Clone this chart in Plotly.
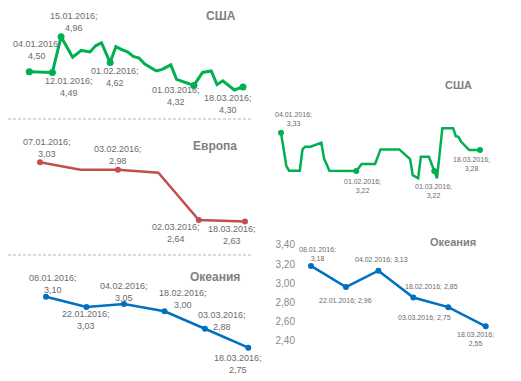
import pandas as pd
import plotly.graph_objects as go

# ---------------- data ----------------
us_left_dates = ["2016-01-04", "2016-01-12", "2016-01-15", "2016-01-19", "2016-01-22", "2016-01-25",
                 "2016-01-27", "2016-01-29", "2016-02-01", "2016-02-03", "2016-02-05", "2016-02-07",
                 "2016-02-09", "2016-02-11", "2016-02-13", "2016-02-17", "2016-02-19", "2016-02-22",
                 "2016-02-24", "2016-03-01", "2016-03-04", "2016-03-07", "2016-03-09", "2016-03-11",
                 "2016-03-15", "2016-03-18"]
us_left_values = [4.50, 4.49, 4.96, 4.69, 4.78, 4.76, 4.84, 4.88, 4.62, 4.83, 4.79, 4.76,
                  4.70, 4.68, 4.60, 4.51, 4.53, 4.59, 4.40, 4.32, 4.49, 4.51, 4.33, 4.38,
                  4.26, 4.30]
us_left_labeled = ["2016-01-04", "2016-01-12", "2016-01-15", "2016-02-01", "2016-03-01", "2016-03-18"]

europe_dates = ["2016-01-07", "2016-01-21", "2016-02-03", "2016-02-17", "2016-03-02", "2016-03-18"]
europe_values = [3.03, 2.98, 2.98, 2.96, 2.64, 2.63]
europe_labeled = ["2016-01-07", "2016-02-03", "2016-03-02", "2016-03-18"]

oceania_left_dates = ["2016-01-08", "2016-01-22", "2016-02-04", "2016-02-18", "2016-03-03", "2016-03-18"]
oceania_left_values = [3.10, 3.03, 3.05, 3.00, 2.88, 2.75]

us_right_dates = ["2016-01-04", "2016-01-06", "2016-01-07", "2016-01-11", "2016-01-12", "2016-01-13",
                  "2016-01-15", "2016-01-19", "2016-01-20", "2016-01-22", "2016-02-01", "2016-02-03",
                  "2016-02-08", "2016-02-10", "2016-02-17", "2016-02-21", "2016-02-22", "2016-02-24",
                  "2016-02-25", "2016-02-28", "2016-03-01", "2016-03-02", "2016-03-04", "2016-03-08",
                  "2016-03-09", "2016-03-10", "2016-03-11", "2016-03-14", "2016-03-16", "2016-03-18"]
us_right_values = [3.33, 3.234, 3.221, 3.221, 3.282, 3.29,
                   3.29, 3.301, 3.256, 3.221, 3.22, 3.24,
                   3.24, 3.282, 3.282, 3.254, 3.208, 3.199,
                   3.261, 3.261, 3.22, 3.199, 3.343, 3.343,
                   3.32, 3.318, 3.304, 3.28, 3.28, 3.28]
us_right_labeled = ["2016-01-04", "2016-02-01", "2016-03-01", "2016-03-18"]

oceania_right_dates = ["2016-01-08", "2016-01-22", "2016-02-04", "2016-02-18", "2016-03-03", "2016-03-18"]
oceania_right_values = [3.18, 2.96, 3.13, 2.85, 2.75, 2.55]
oceania_right_ticks = [2.40, 2.60, 2.80, 3.00, 3.20, 3.40]

titles = ["США", "Европа", "Океания", "США", "Океания"]

# ---------------- layout helpers ----------------
W, H = 521, 381
GREEN, RED, BLUE = "#00b050", "#c0504d", "#0070c0"
LABEL_COLOR = "#6b6b6b"
TITLE_COLOR = "#808080"
FONT = "Liberation Sans, Arial, sans-serif"


def ms(d):
    return pd.Timestamp(d).value / 1e6


def lin_range(v1, p1, v2, p2, lo, hi):
    s = (p2 - p1) / (v2 - v1)
    return v1 + (lo - p1) / s, v1 + (hi - p1) / s


def x_axis(d1, p1, d2, p2, lo, hi):
    a, b = lin_range(ms(d1), p1, ms(d2), p2, lo, hi)
    rng = [pd.Timestamp(a, unit="ms").strftime("%Y-%m-%d %H:%M:%S"),
           pd.Timestamp(b, unit="ms").strftime("%Y-%m-%d %H:%M:%S")]
    return dict(type="date", domain=[lo / W, hi / W], range=rng, visible=False, fixedrange=True)


def y_axis(v1, p1, v2, p2, lo, hi, **kw):
    top, bottom = lin_range(v1, p1, v2, p2, lo, hi)
    d = dict(domain=[1 - hi / H, 1 - lo / H], range=[bottom, top], visible=False,
             showgrid=False, zeroline=False, fixedrange=True)
    d.update(kw)
    return d


def fmt_label(d, v, two_lines=True):
    ds = pd.Timestamp(d).strftime("%d.%m.%Y") + ";"
    vs = f"{v:.2f}".replace(".", ",")
    return ds + ("<br>" if two_lines else " ") + vs


fig = go.Figure()
annotations = []


def add_panel(idx, dates, values, color, width, msize, labeled, offsets, font_size,
              single_line=()):
    xa = "x" if idx == 1 else f"x{idx}"
    ya = "y" if idx == 1 else f"y{idx}"
    fig.add_trace(go.Scatter(x=dates, y=values, mode="lines", xaxis=xa, yaxis=ya,
                             line=dict(color=color, width=width), hoverinfo="skip",
                             showlegend=False))
    mx = [d for d in dates if d in labeled]
    my = [v for d, v in zip(dates, values) if d in labeled]
    fig.add_trace(go.Scatter(x=mx, y=my, mode="markers", xaxis=xa, yaxis=ya,
                             marker=dict(color=color, size=msize), hoverinfo="skip",
                             showlegend=False))
    for d, v in zip(mx, my):
        dx, dy, arrow = offsets[d]
        ann = dict(x=d, y=v, xref=xa, yref=ya, text=fmt_label(d, v, d not in single_line),
                   font=dict(size=font_size, color=LABEL_COLOR, family=FONT),
                   xanchor="center", yanchor="middle", align="center")
        if arrow:
            ann.update(showarrow=True, ax=dx, ay=dy, arrowhead=0, arrowwidth=0.7,
                       arrowcolor="#9a9a9a", standoff=4, startstandoff=9)
        else:
            ann.update(showarrow=False, xshift=dx, yshift=-dy)
        annotations.append(ann)


# panel 1: USA left
add_panel(1, us_left_dates, us_left_values, GREEN, 3, 7, us_left_labeled, {
    "2016-01-04": (8, -22, True),
    "2016-01-12": (17, 15, False),
    "2016-01-15": (13, -15, False),
    "2016-02-01": (5, 14, False),
    "2016-03-01": (-18, 11, False),
    "2016-03-18": (-15, 17, False),
}, 9)

# panel 2: Europe
add_panel(2, europe_dates, europe_values, RED, 2.5, 6, europe_labeled, {
    "2016-01-07": (7, -14, False),
    "2016-02-03": (0, -15, False),
    "2016-03-02": (-23, 13, False),
    "2016-03-18": (-13, 14, False),
}, 9)

# panel 3: Oceania left
add_panel(3, oceania_left_dates, oceania_left_values, BLUE, 2.5, 6, oceania_left_dates, {
    "2016-01-08": (7, -13, False),
    "2016-01-22": (0, 13, False),
    "2016-02-04": (0, -12, False),
    "2016-02-18": (19, -12, False),
    "2016-03-03": (17, -8, False),
    "2016-03-18": (-10, 16, False),
}, 9)

# panel 4: USA right
add_panel(4, us_right_dates, us_right_values, GREEN, 2.5, 6, us_right_labeled, {
    "2016-01-04": (12, -14, False),
    "2016-02-01": (6, 15, False),
    "2016-03-01": (-1, 20, False),
    "2016-03-18": (-9, 14, False),
}, 7)

# panel 5: Oceania right
add_panel(5, oceania_right_dates, oceania_right_values, BLUE, 2.5, 6, oceania_right_dates, {
    "2016-01-08": (6, -12, False),
    "2016-01-22": (0, 13, False),
    "2016-02-04": (3, -11, False),
    "2016-02-18": (18, -11, False),
    "2016-03-03": (-24, 10, False),
    "2016-03-18": (-10, 13, False),
}, 7, single_line=("2016-01-22", "2016-02-04", "2016-02-18", "2016-03-03"))

# titles (pixel centres)
title_pos = [(221, 16, 12), (215, 146, 12), (215, 277, 12), (458, 85, 11), (453, 242, 11)]
for t, (px, py, fs) in zip(titles, title_pos):
    annotations.append(dict(x=px / W, y=1 - py / H, xref="paper", yref="paper", text=f"<b>{t}</b>",
                            showarrow=False, xanchor="center", yanchor="middle",
                            font=dict(size=fs, color=TITLE_COLOR, family=FONT)))

shapes = []
for py in (119, 255):
    shapes.append(dict(type="line", xref="paper", yref="paper", x0=8 / W, x1=253 / W,
                       y0=1 - py / H, y1=1 - py / H,
                       line=dict(color="#b5b5b5", width=1.2, dash="3px,2px")))

fig.update_layout(
    width=W, height=H, margin=dict(l=0, r=0, t=0, b=0),
    paper_bgcolor="white", plot_bgcolor="rgba(0,0,0,0)",
    separators=", ",
    font=dict(family=FONT),
    showlegend=False,
    hovermode=False,
    annotations=annotations, shapes=shapes,
    xaxis=x_axis("2016-01-04", 29.3, "2016-03-18", 243, 5, 258),
    yaxis=y_axis(4.50, 71.7, 4.96, 36.7, 5, 114),
    xaxis2=x_axis("2016-01-07", 40, "2016-03-18", 245, 5, 258),
    yaxis2=y_axis(3.03, 162.3, 2.64, 220, 122, 252),
    xaxis3=x_axis("2016-01-08", 46, "2016-03-18", 248.3, 5, 258),
    yaxis3=y_axis(3.10, 296.7, 2.75, 347.7, 258, 378),
    xaxis4=x_axis("2016-01-04", 281, "2016-03-18", 480, 262, 518),
    yaxis4=y_axis(3.33, 132.7, 3.22, 171, 90, 205),
    xaxis5=x_axis("2016-01-08", 311, "2016-03-18", 485.7, 296, 518),
    yaxis5=y_axis(3.20, 264, 2.40, 340.7, 236, 370, visible=True, showline=False,
                  tickvals=oceania_right_ticks, tickformat=".2f", ticks="",
                  tickfont=dict(size=10, color="#8a8a8a", family=FONT)),
)
for i in range(1, 6):
    xa = "xaxis" if i == 1 else f"xaxis{i}"
    ya = "yaxis" if i == 1 else f"yaxis{i}"
    fig.layout[xa].anchor = "y" if i == 1 else f"y{i}"
    fig.layout[ya].anchor = "x" if i == 1 else f"x{i}"

fig.write_html("out.html", config={"displayModeBar": False, "staticPlot": True},
               post_script="document.body.style.margin='0px';")
